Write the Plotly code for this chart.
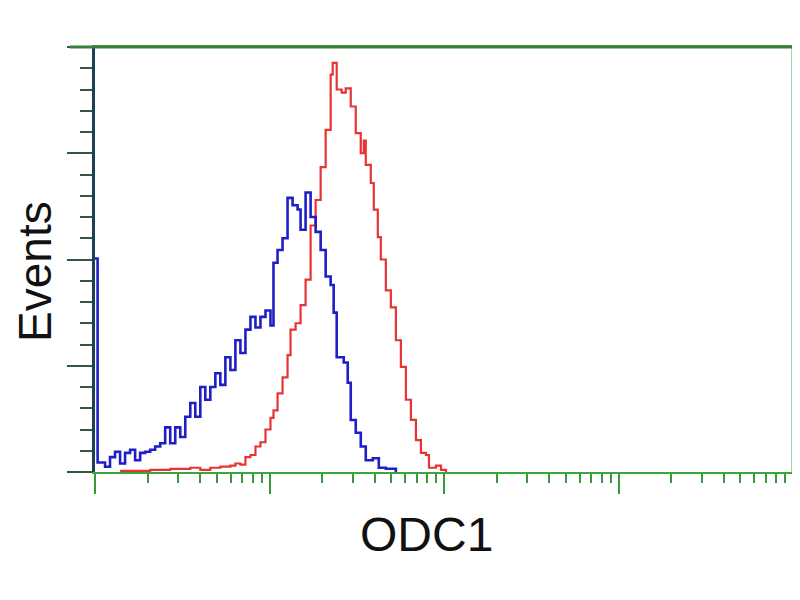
import plotly.graph_objects as go

# Blue histogram (control): bin start intensity and event counts
blue_x = [1.00, 1.035, 1.068, 1.142, 1.219, 1.303, 1.392, 1.487, 1.589, 1.698, 1.814,
          1.938, 2.071, 2.212, 2.364, 2.525, 2.698, 2.883, 3.080, 3.291, 3.516, 3.756,
          4.013, 4.287, 4.580, 4.894, 5.228, 5.586, 5.968, 6.376, 6.813, 7.279, 7.776,
          8.308, 8.876, 9.485, 10.13, 10.54, 11.12, 11.88, 12.69, 13.56, 14.49, 15.07,
          16.10, 17.20, 18.38, 19.64, 20.98, 22.41, 23.32, 24.27, 26.63, 28.07, 29.21,
          31.21, 33.34, 35.62, 39.08, 42.31, 46.42, 52.98]
blue_y = [201, 9, 9, 5, 14, 19, 8, 18, 21, 11, 18,
          19, 21, 24, 27, 42, 27, 42, 33, 52, 65, 52,
          80, 68, 80, 93, 82, 108, 96, 124, 112, 134, 146,
          136, 146, 152, 138, 197, 209, 220, 258, 251, 247, 228,
          263, 240, 226, 209, 184, 176, 150, 108, 103, 84, 49,
          37, 24, 11, 13, 4, 3, 0]

# Red histogram (ODC1 stained)
red_x = [1.392, 2.071, 2.698, 3.516, 4.013, 4.580, 5.228, 5.968, 6.376, 6.813, 7.279,
         7.776, 8.308, 8.876, 9.485, 10.13, 10.54, 11.12, 11.88, 12.69, 13.20, 14.11,
         15.07, 16.10, 17.20, 18.38, 19.64, 20.98, 22.41, 23.02, 24.27, 25.93, 27.34,
         29.21, 31.21, 33.34, 34.69, 35.62, 38.06, 39.60, 41.75, 43.44, 46.42, 49.59,
         52.98, 56.61, 60.48, 64.62, 69.04, 73.76, 78.80, 82.0, 89.95, 96.1, 102.7]
red_y = [1, 2, 3, 4, 2, 4, 5, 6, 8, 7, 14,
         16, 24, 28, 40, 51, 58, 74, 89, 110, 134, 140,
         157, 181, 232, 256, 287, 322, 374, 385, 360, 357, 361,
         344, 319, 300, 312, 289, 272, 247, 221, 200, 171, 155,
         124, 99, 68, 49, 30, 18, 16, 4, 6, 2, 0]

x_title = "ODC1"
y_title = "Events"

fig = go.Figure()
fig.add_trace(go.Scatter(x=red_x, y=red_y, mode="lines", line_shape="hv",
                         line=dict(color="#e53434", width=2.2), showlegend=False))
fig.add_trace(go.Scatter(x=blue_x, y=blue_y, mode="lines", line_shape="hv",
                         line=dict(color="#1f1fc8", width=2.6), showlegend=False))

fig.update_layout(
    template="none",
    width=792, height=592,
    margin=dict(l=87, r=7, t=39, b=128, pad=0),
    paper_bgcolor="white", plot_bgcolor="white",
    font=dict(family="Liberation Sans, Arial, sans-serif", color="#111111"),
    xaxis=dict(type="log", range=[0, 4], showgrid=False, zeroline=False,
               automargin=False, layer="below traces",
               showline=True, linecolor="#3aa53a", linewidth=2, mirror=True,
               ticks="outside", ticklen=20, tickwidth=2, tickcolor="#3a9a3a",
               dtick=1, showticklabels=False,
               minor=dict(ticks="outside", ticklen=9, tickwidth=2,
                          tickcolor="#3a9a3a", dtick="D1", showgrid=False)),
    yaxis=dict(range=[0, 400], showgrid=False, zeroline=False,
               automargin=False, layer="below traces",
               showline=True, linecolor="#1e3f55", linewidth=3,
               ticks="outside", ticklen=25, tickwidth=2, tickcolor="#2f5a40",
               dtick=100, showticklabels=False,
               minor=dict(ticks="outside", ticklen=12, tickwidth=2,
                          tickcolor="#2f5a40", dtick=20, showgrid=False)),
    shapes=[dict(type="line", xref="paper", yref="paper", x0=1, x1=1, y0=0, y1=1,
                 line=dict(color="#4aa84a", width=3)),
            dict(type="line", xref="paper", yref="paper", x0=-0.036, x1=1, y0=1, y1=1,
                 line=dict(color="#3b7d3b", width=3))],
    annotations=[
        dict(text=x_title, xref="paper", yref="paper", x=0.475, y=-0.147,
             xanchor="center", yanchor="middle", showarrow=False,
             font=dict(size=48, color="#111111")),
        dict(text=y_title, xref="paper", yref="paper", x=-0.086, y=0.473,
             xanchor="center", yanchor="middle", showarrow=False, textangle=-90,
             font=dict(size=46, color="#111111")),
    ],
)

fig.write_html("out.html")
